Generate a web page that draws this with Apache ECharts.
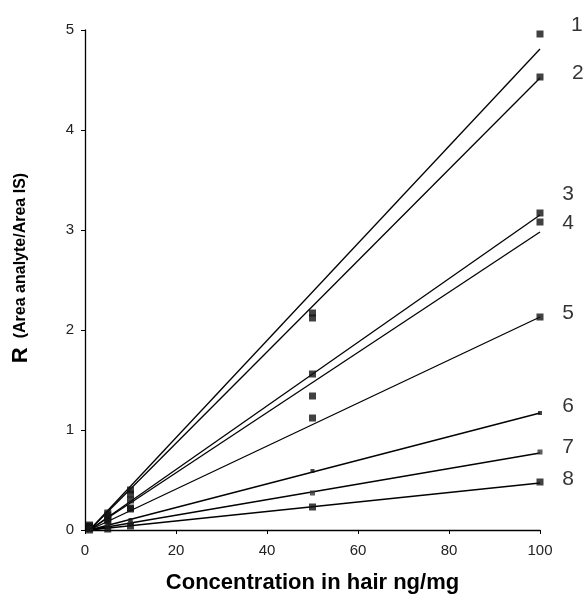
<!DOCTYPE html>
<html><head><meta charset="utf-8">
<script src="https://cdn.jsdelivr.net/npm/echarts@6/dist/echarts.min.js"></script>
<style>html,body{margin:0;padding:0;background:#fff}#c{width:585px;height:599px}</style>
</head><body><div id="c"></div>
<script>
// concentrations (ng/mg)
const concentrations = [1, 5, 10, 50, 100];
// measured ratios per compound (series 1..8)
const s1 = [0.05, 0.17, 0.40, 2.17, 4.96];
const s2 = [0.04, 0.15, 0.36, 2.12, 4.53];
const s3 = [0.03, 0.13, 0.30, 1.56, 3.17];
const s4 = [0.02, 0.10, 0.22, 1.34, 3.08];
const s5 = [0.02, 0.09, 0.21, 1.12, 2.13];
const s6 = [0.01, 0.05, 0.10, 0.59, 1.17];
const s7 = [0.01, 0.03, 0.07, 0.37, 0.78];
const s8 = [0.00, 0.01, 0.04, 0.23, 0.48];
// regression line endpoints
const fitX = [1, 100];
const fitStart = [0, 0, 0, 0, 0, 0, 0, 0];
const fitEnd = [4.81, 4.52, 3.15, 2.98, 2.13, 1.17, 0.77, 0.47];
// series number labels (position in data units)
const labelText = ['1','2','3','4','5','6','7','8'];
const labelX = [108.1, 108.3, 106.2, 106.2, 106.2, 106.2, 106.2, 106.2];
const labelY = [5.05, 4.57, 3.36, 3.07, 2.17, 1.24, 0.83, 0.51];
// ticks
const xTicks = [0, 20, 40, 60, 80, 100];
const yTicks = [0, 1, 2, 3, 4, 5];

const all = [s1, s2, s3, s4, s5, s6, s7, s8];
const symSizes = [7, 7, 7, 7, 7, 4, 5, 7];
const symColors = ['#111', '#111', '#111', '#111', '#111', '#111', '#333', '#111'];
const series = [];
all.forEach((s, i) => {
  series.push({
    type: 'line', data: [[fitX[0], fitStart[i]], [fitX[1], fitEnd[i]]],
    symbol: 'none', lineStyle: {color: '#000', width: 1.3}, silent: true, z: 2
  });
  series.push({
    type: 'scatter', data: concentrations.map((c, j) => [c, s[j]]),
    symbol: 'rect', symbolSize: symSizes[i], itemStyle: {color: symColors[i]}, z: 3
  });
});
series.push({
  type: 'scatter', symbolSize: 0, clip: false,
  data: labelText.map((t, i) => ({value: [labelX[i], labelY[i]], name: t})),
  label: {show: true, position: 'inside', formatter: p => p.name,
    fontFamily: 'Liberation Sans', fontSize: 21, color: '#000'}
});

const chart = echarts.init(document.getElementById('c'), null, {renderer: 'canvas'});
chart.setOption({
  animation: false,
  backgroundColor: '#fff',
  grid: {left: 85, right: 45, top: 30, bottom: 69, containLabel: false},
  xAxis: {
    type: 'value', min: xTicks[0], max: xTicks[xTicks.length - 1], interval: 20,
    name: 'Concentration in hair ng/mg', nameLocation: 'middle', nameGap: 42,
    nameTextStyle: {fontFamily: 'Liberation Sans', fontWeight: 'bold', fontSize: 22, color: '#000'},
    axisLine: {lineStyle: {color: '#000', width: 1.3}},
    axisTick: {show: true, length: 4, lineStyle: {color: '#000'}},
    axisLabel: {fontFamily: 'Liberation Sans', fontSize: 15, color: '#222', margin: 13},
    splitLine: {show: false}
  },
  yAxis: {
    type: 'value', min: yTicks[0], max: yTicks[yTicks.length - 1], interval: 1,
    name: '{r|R}{s|(Area analyte/Area IS)}', nameLocation: 'middle', nameGap: 53, nameRotate: 90,
    nameTextStyle: {fontFamily: 'Liberation Sans', color: '#000',
      rich: {r: {fontSize: 22, fontWeight: 'bold', fontFamily: 'Liberation Sans', padding: [0, 9, 0, 24]},
             s: {fontSize: 16, fontWeight: 'bold', fontFamily: 'Liberation Sans'}}},
    axisLine: {show: true, lineStyle: {color: '#000', width: 1.3}},
    axisTick: {show: true, length: 4, lineStyle: {color: '#000'}},
    axisLabel: {fontFamily: 'Liberation Sans', fontSize: 15, color: '#222', margin: 11},
    splitLine: {show: false}
  },
  series: series
});
</script></body></html>
